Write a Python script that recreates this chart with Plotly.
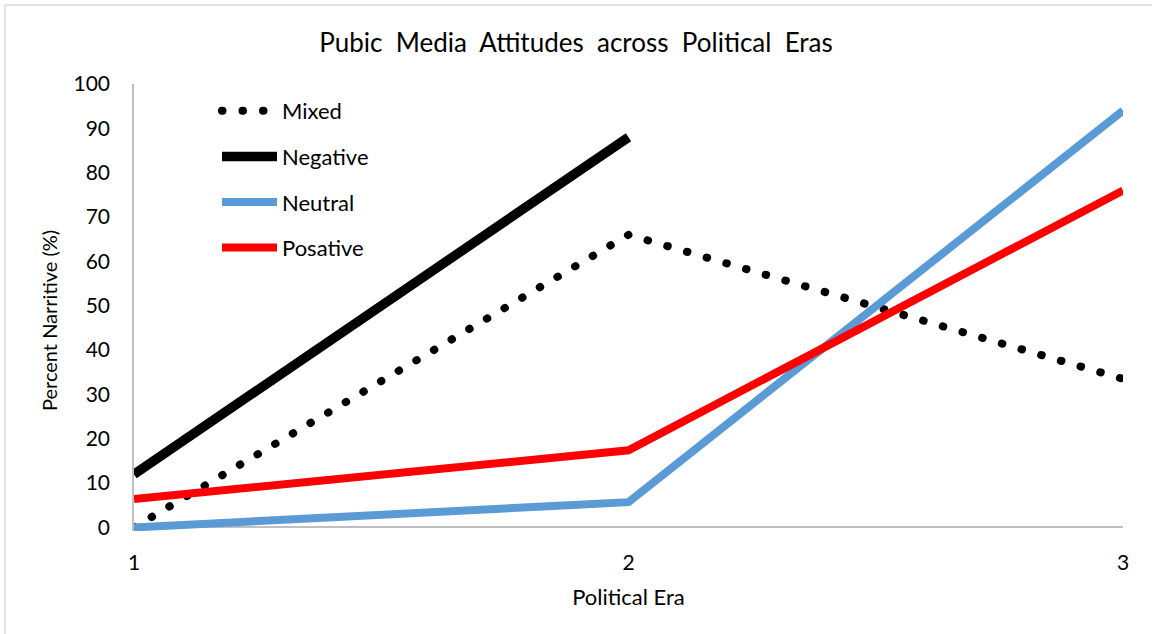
import plotly.graph_objects as go

# Political eras on the x axis
eras = [1, 2, 3]

# Percent of narratives in each attitude category per era
mixed = [0, 66, 33.5]
negative = [12, 88, None]
neutral = [0, 5.7, 94]
posative = [6.4, 17.4, 76]

series_names = ["Mixed", "Negative", "Neutral", "Posative"]
series_values = [mixed, negative, neutral, posative]
series_colors = ["#000000", "#000000", "#5b9bd5", "#ff0000"]
series_widths = [8, 9.5, 8, 8]
series_dash = ["0.5px,20px", "solid", "solid", "solid"]

y_ticks = list(range(0, 101, 10))

FONT = "Lato, 'Open Sans', sans-serif"
NB = "\u00a0"

fig = go.Figure()
for name, vals, color, width, dash in zip(series_names, series_values,
                                          series_colors, series_widths, series_dash):
    fig.add_trace(go.Scatter(
        x=eras, y=vals, name=name, mode="lines", legendgroup=name,
        line=dict(color=color, width=width, dash=dash),
        connectgaps=False,
    ))

W, H = 1152, 634
L, R, T, B = 134, 29, 84, 103
pw, ph = W - L - R, H - T - B

def px_x(p):
    return (p - L) / pw

def px_y(p):
    return (H - B - p) / ph

title_text = (NB + " ").join("Pubic Media Attitudes across Political Eras".split(" "))

fig.update_layout(
    width=W, height=H,
    margin=dict(l=L, r=R, t=T, b=B),
    paper_bgcolor="white", plot_bgcolor="white",
    font=dict(family=FONT, size=21, color="#000000"),
    title=dict(text=title_text,
               x=0.5, xanchor="center", y=1 - 43 / H, yanchor="middle",
               font=dict(size=26, family=FONT)),
    showlegend=True,
    legend=dict(x=px_x(217), y=px_y(90), xanchor="left", yanchor="top",
                bgcolor="rgba(0,0,0,0)", tracegroupgap=14, itemwidth=55,
                font=dict(size=22, family=FONT)),
    xaxis=dict(range=[1, 3], tickvals=eras, ticktext=[str(e) for e in eras],
               showgrid=False, zeroline=False, showline=False,
               ticks="", ticklabelstandoff=17, tickfont=dict(size=21),
               title=dict(text="Political Era", font=dict(size=22), standoff=16)),
    yaxis=dict(range=[-0.8, 100], tickvals=y_ticks, showgrid=False,
               zeroline=True, zerolinecolor="#bfbfbf", zerolinewidth=1.5,
               showline=True, linecolor="#bfbfbf", linewidth=1.5,
               ticks="", ticklabelstandoff=18, tickfont=dict(size=21)),
    annotations=[
        dict(text="Percent Narritive (%)", textangle=-90, showarrow=False,
             xref="paper", yref="paper", x=px_x(49), y=px_y(321),
             xanchor="center", yanchor="middle", font=dict(size=20, family=FONT)),
    ],
    shapes=[
        dict(type="line", xref="paper", yref="paper",
             x0=px_x(5), x1=px_x(5), y0=px_y(H + 5), y1=px_y(5),
             line=dict(color="#d9d9d9", width=1.5), layer="below"),
        dict(type="line", xref="paper", yref="paper",
             x0=px_x(5), x1=px_x(W + 5), y0=px_y(5), y1=px_y(5),
             line=dict(color="#d9d9d9", width=1.5), layer="below"),
    ],
)

# Round caps turn the dotted pattern into round dots
post = """
document.querySelectorAll('path.js-line').forEach(function(p){
  var d = p.style.strokeDasharray;
  if (d && d !== 'none' && d !== '') { p.style.strokeLinecap = 'round'; }
});
"""

fig.write_html("out.html", post_script=post)
